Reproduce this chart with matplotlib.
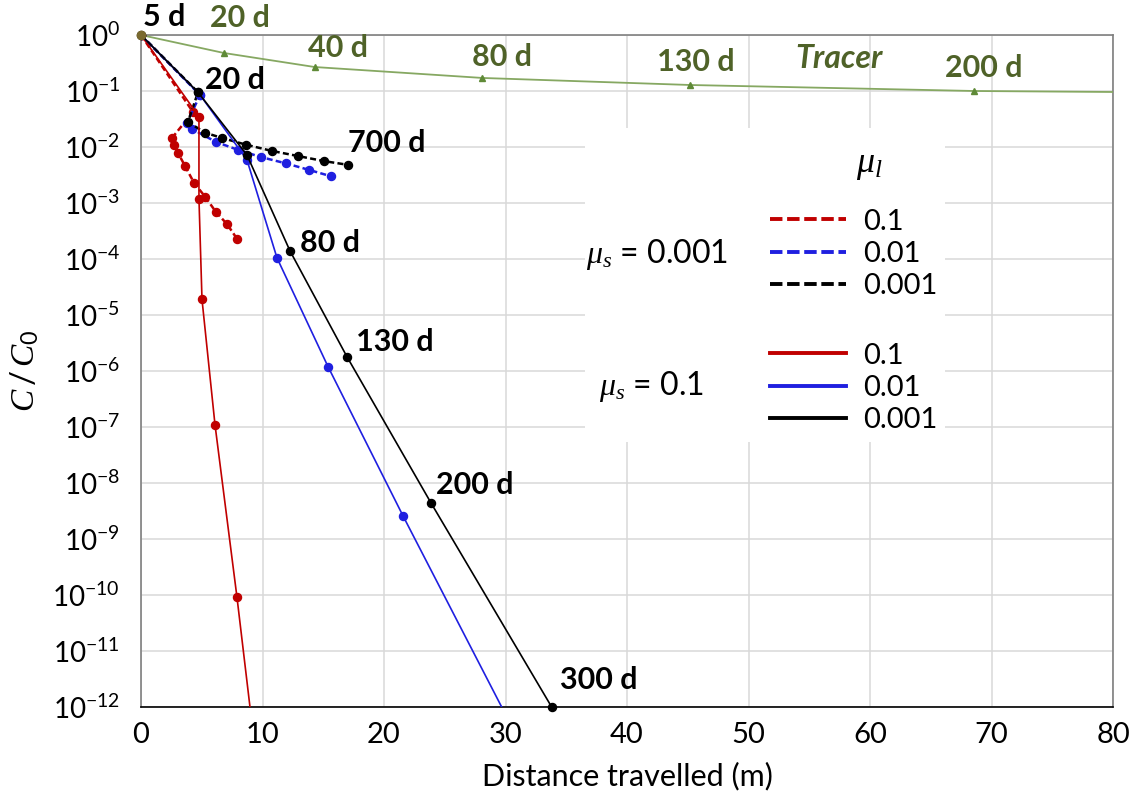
import matplotlib
matplotlib.use("Agg")
import matplotlib.pyplot as plt
from matplotlib.lines import Line2D
from matplotlib.patches import Rectangle

plt.rcParams['font.family'] = ['Lato', 'DejaVu Sans']
plt.rcParams['mathtext.fontset'] = 'custom'
plt.rcParams['mathtext.rm'] = 'Lato'
plt.rcParams['mathtext.it'] = 'Liberation Serif:italic'
plt.rcParams['mathtext.bf'] = 'Lato:bold'

# data (distance in m, C/C0)
tracer_x = [0, 6.83, 14.3, 28.1, 45.2, 68.6, 80]
tracer_y = [1, 0.477, 0.268, 0.171, 0.128, 0.100, 0.096]

# mu_s = 0.1 (solid)
red_solid_x = [0, 4.77, 4.77, 5.02, 6.09, 7.90, 10.0]
red_solid_y = [1, 3.5e-2, 1.2e-3, 1.9e-5, 1.1e-7, 9.1e-11, 1.3e-14]
blue_solid_x = [0, 4.86, 8.72, 11.19, 15.39, 21.56, 31.0]
blue_solid_y = [1, 8.5e-2, 5.9e-3, 1.05e-4, 1.2e-6, 2.6e-9, 2.8e-13]
black_solid_x = [0, 4.69, 8.72, 12.26, 16.95, 23.87, 33.8]
black_solid_y = [1, 9.5e-2, 7.2e-3, 1.4e-4, 1.8e-6, 4.4e-9, 1.0e-12]

# mu_s = 0.001 (dashed)
red_dash_x = [0, 4.28, 2.55, 2.72, 3.05, 3.62, 4.36, 5.27, 6.17, 7.08, 7.90]
red_dash_y = [1, 4.2e-2, 1.45e-2, 1.1e-2, 7.8e-3, 4.6e-3, 2.3e-3, 1.3e-3, 6.9e-4, 4.2e-4, 2.3e-4]
blue_dash_x = [0, 4.86, 3.79, 4.20, 6.17, 7.98, 9.88, 11.93, 13.83, 15.64]
blue_dash_y = [1, 8.5e-2, 2.7e-2, 2.1e-2, 1.23e-2, 8.9e-3, 6.6e-3, 5.1e-3, 3.9e-3, 3.0e-3]
black_dash_x = [0, 4.69, 3.87, 5.27, 6.67, 8.64, 10.78, 12.92, 15.06, 17.04]
black_dash_y = [1, 9.5e-2, 2.8e-2, 1.8e-2, 1.45e-2, 1.1e-2, 8.5e-3, 6.9e-3, 5.6e-3, 4.8e-3]

x_ticks = [0, 10, 20, 30, 40, 50, 60, 70, 80]
y_exps = list(range(0, -13, -1))
legend_labels = ['0.1', '0.01', '0.001']

RED = '#c00000'
BLUE = '#1f1fe0'
BLACK = '#000000'
GREEN_LINE = '#86a862'
GREEN_MK = '#5f8a37'
GREEN_TXT = '#4f6228'

W, H = 1132, 799
fig = plt.figure(figsize=(W / 100, H / 100), dpi=100)
L0, R0, T0, B0 = 141, 1113, 35, 707
ax = fig.add_axes([L0 / W, 1 - B0 / H, (R0 - L0) / W, (B0 - T0) / H])


def axf(px, py):
    # pixel position in the picture -> axes fraction
    return (px - L0) / (R0 - L0), (B0 - py) / (B0 - T0)


ax.set_yscale('log')
ax.set_xlim(0, 80)
ax.set_ylim(1e-12, 1)
ax.set_xticks(x_ticks)
ax.set_yticks([10.0 ** e for e in y_exps])
ax.set_yticklabels([r'$\mathregular{10^{%d}}$' % e for e in y_exps])
ax.minorticks_off()
ax.tick_params(axis='both', length=0)
ax.tick_params(axis='x', pad=11, labelsize=21)
ax.tick_params(axis='y', pad=15, labelsize=20)
ax.grid(True, color='#d9d9d9', lw=1.1)
ax.set_axisbelow(True)
for s in ['top', 'right', 'left']:
    ax.spines[s].set_color('#7f7f7f')
    ax.spines[s].set_linewidth(1.2)
ax.spines['bottom'].set_color('black')
ax.spines['bottom'].set_linewidth(1.2)

ax.set_xlabel('Distance travelled (m)', fontsize=22, labelpad=10)
ax.set_ylabel(r'$C\,/\,C_{\mathrm{0}}$', fontsize=24, labelpad=8)

# white box behind the legend
bx0, by0 = axf(585, 442)
bx1, by1 = axf(945, 128)
ax.add_patch(Rectangle((bx0, by0), bx1 - bx0, by1 - by0, transform=ax.transAxes,
                       facecolor='white', edgecolor='none', zorder=1))

dash = (2.4, 1.3)
ax.plot(tracer_x, tracer_y, color=GREEN_LINE, lw=1.3, marker='^', ms=5,
        mfc=GREEN_MK, mec=GREEN_MK, markevery=[1, 2, 3, 4, 5], zorder=3)

ax.plot(red_dash_x, red_dash_y, color=RED, lw=1.8, dashes=dash, marker='o', ms=5.8, zorder=4)
ax.plot(blue_dash_x, blue_dash_y, color=BLUE, lw=1.8, dashes=dash, marker='o', ms=5.8, zorder=4)
ax.plot(black_dash_x, black_dash_y, color=BLACK, lw=1.8, dashes=dash, marker='o', ms=5.8, zorder=4)

ax.plot(red_solid_x, red_solid_y, color=RED, lw=1.2, marker='o', ms=5.8, zorder=5)
ax.plot(blue_solid_x, blue_solid_y, color=BLUE, lw=1.2, marker='o', ms=5.8, zorder=5)
ax.plot(black_solid_x, black_solid_y, color=BLACK, lw=1.2, marker='o', ms=5.8, zorder=5,
        clip_on=False)

# common start point
ax.plot(tracer_x[:1], tracer_y[:1], 'o', ms=6, color='#7a6a30', zorder=6, clip_on=False)

# day labels
bold_black = [('5 d', 143, 17), ('20 d', 205, 80), ('700 d', 348, 143), ('80 d', 300, 243),
              ('130 d', 356, 342), ('200 d', 436, 485), ('300 d', 560, 680)]
for t, px, py in bold_black:
    xa, ya = axf(px, py)
    ax.text(xa, ya, t, transform=ax.transAxes, fontsize=22, fontweight='bold',
            ha='left', va='center', clip_on=False, zorder=7)

bold_green = [('20 d', 210, 18), ('40 d', 308, 48), ('80 d', 472, 57),
              ('130 d', 657, 62), ('200 d', 945, 68)]
for t, px, py in bold_green:
    xa, ya = axf(px, py)
    ax.text(xa, ya, t, transform=ax.transAxes, fontsize=22, fontweight='bold',
            color=GREEN_TXT, ha='left', va='center', clip_on=False, zorder=7)
xa, ya = axf(795, 58)
ax.text(xa, ya, 'Tracer', transform=ax.transAxes, fontsize=23, fontweight='bold',
        style='italic', color=GREEN_TXT, ha='left', va='center', zorder=7)

# legend
xa, ya = axf(856, 165)
ax.text(xa, ya, r'$\mu_l$', transform=ax.transAxes, fontsize=26, ha='left', va='center', zorder=7)
xa, ya = axf(586, 255)
ax.text(xa, ya, r'$\mu_s$ = 0.001', transform=ax.transAxes, fontsize=23, ha='left', va='center', zorder=7)
xa, ya = axf(599, 387)
ax.text(xa, ya, r'$\mu_s$ = 0.1', transform=ax.transAxes, fontsize=23, ha='left', va='center', zorder=7)

cols = [RED, BLUE, BLACK]
h_dash = [Line2D([], [], color=c, lw=2.8, dashes=(3.2, 1.2)) for c in cols]
h_solid = [Line2D([], [], color=c, lw=2.8) for c in cols]
leg_kw = dict(loc='center left', fontsize=21, handlelength=2.6, handletextpad=0.6,
              labelspacing=0.22, frameon=False, borderpad=0, borderaxespad=0)
leg1 = ax.legend(h_dash, legend_labels, bbox_to_anchor=axf(770, 254), **leg_kw)
leg1.set_zorder(8)
ax.add_artist(leg1)
leg2 = ax.legend(h_solid, legend_labels, bbox_to_anchor=axf(770, 388), **leg_kw)
leg2.set_zorder(8)

fig.savefig('out.png', dpi=100)
